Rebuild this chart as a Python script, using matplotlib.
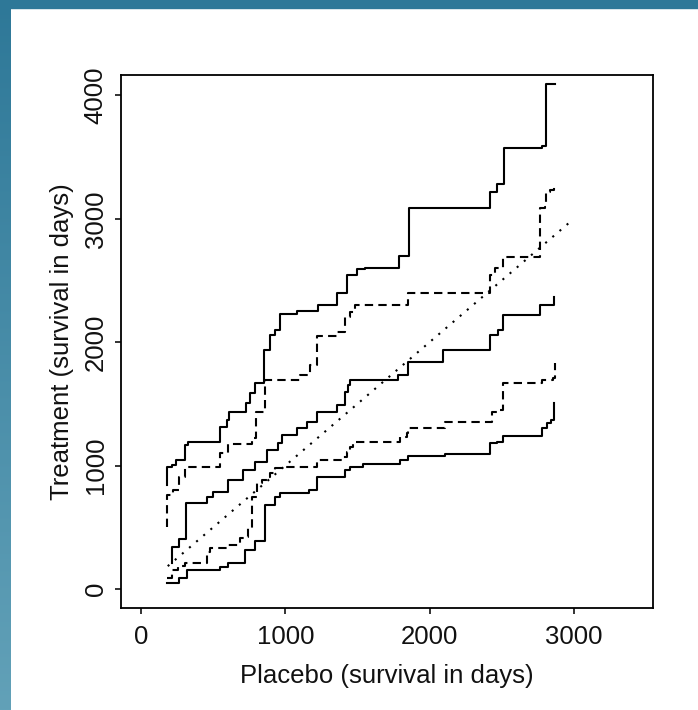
import numpy as np
import matplotlib.pyplot as plt
from matplotlib.patches import Rectangle

plt.rcParams['font.family'] = ['Liberation Sans', 'DejaVu Sans']

# upper solid band
upper_x = [182, 182, 213, 243, 305, 328, 547, 594, 612, 728, 755, 790, 854, 894, 929,
           963, 1079, 1229, 1360, 1425, 1494, 1552, 1790, 1859, 2419, 2469, 2516, 2777, 2807, 2869]
upper_y = [843, 991, 1005, 1045, 1167, 1194, 1315, 1370, 1437, 1505, 1586, 1667, 1937, 2058, 2099,
           2226, 2253, 2301, 2396, 2545, 2591, 2604, 2699, 3090, 3220, 3282, 3571, 3590, 4090, 4090]

# middle solid (estimate)
mid_x = [213, 213, 263, 312, 455, 501, 605, 709, 790, 871, 951, 977, 1081, 1150, 1218,
         1356, 1414, 1437, 1448, 1783, 1852, 2095, 2419, 2476, 2511, 2765, 2862]
mid_y = [208, 343, 405, 694, 748, 788, 883, 964, 1032, 1126, 1181, 1248, 1305, 1356, 1437,
         1491, 1599, 1653, 1694, 1734, 1842, 1937, 2058, 2099, 2220, 2301, 2366]

# lower solid band
low_x = [180, 263, 317, 547, 605, 721, 790, 859, 929, 963, 1164, 1220, 1414, 1448, 1541,
         1795, 1852, 2107, 2419, 2467, 2511, 2777, 2811, 2841, 2862]
low_y = [46, 87, 154, 181, 208, 316, 385, 681, 748, 776, 802, 908, 964, 991, 1013,
         1045, 1078, 1092, 1181, 1194, 1236, 1302, 1343, 1370, 1505]

# upper dashed band
dup_x = [182, 182, 224, 265, 305, 547, 605, 767, 797, 859, 1102, 1171, 1218, 1356, 1414,
         1448, 1483, 1852, 2419, 2453, 2511, 2765, 2800, 2810, 2834, 2862]
dup_y = [505, 762, 802, 910, 991, 1100, 1175, 1221, 1437, 1694, 1734, 1815, 2050, 2085, 2207,
         2247, 2301, 2396, 2545, 2599, 2693, 3085, 3098, 3217, 3233, 3266]

# lower dashed band
dlo_x = [182, 213, 256, 305, 455, 478, 594, 686, 733, 744, 767, 802, 836, 871, 894, 929,
         986, 1218, 1402, 1425, 1448, 1471, 1795, 1841, 1852, 2107, 2430, 2476, 2511, 2777, 2857, 2869]
dlo_y = [89, 154, 186, 208, 302, 330, 357, 411, 424, 492, 748, 857, 883, 910, 938, 978,
         991, 1045, 1072, 1113, 1153, 1194, 1234, 1262, 1302, 1356, 1437, 1451, 1667, 1694, 1707, 1829]

# line of equality
eq_x = [185, 2970]
eq_y = [185, 2970]

xticks = [0, 1000, 2000, 3000]
yticks = [0, 1000, 2000, 3000, 4000]

W, H = 698, 710
fig = plt.figure(figsize=(W / 100, H / 100), dpi=100)

# blue frame on the left and top
bg = fig.add_axes([0, 0, 11 / W, 1])
top_c = np.array([46, 120, 152]) / 255
bot_c = np.array([98, 161, 184]) / 255
t = np.linspace(0, 1, 256)[:, None]
grad = (top_c * (1 - t) + bot_c * t)[:, None, :]
bg.imshow(grad, aspect='auto', extent=[0, 1, 0, 1])
bg.axis('off')
fig.patches.append(Rectangle((0, 1 - 8 / H), 1, 8 / H, transform=fig.transFigure,
                             color=top_c, zorder=5))

ax = fig.add_axes([121 / W, 102 / H, 532 / W, 533 / H])

ax.plot(upper_x, upper_y, drawstyle='steps-post', color='black', lw=1.5)
ax.plot(mid_x, mid_y, drawstyle='steps-post', color='black', lw=1.5)
ax.plot(low_x, low_y, drawstyle='steps-post', color='black', lw=1.5)
ax.plot(dup_x, dup_y, drawstyle='steps-post', color='black', lw=1.5, ls=(0, (4, 2.5)))
ax.plot(dlo_x, dlo_y, drawstyle='steps-post', color='black', lw=1.5, ls=(0, (4, 2.5)))
ax.plot(eq_x, eq_y, color='black', lw=1.5, ls=(0, (1, 3.5)))

ax.set_xlim(-139, 3549)
ax.set_ylim(-154, 4165)
ax.set_xticks(xticks)
ax.set_yticks(yticks)
for s in ax.spines.values():
    s.set_linewidth(1.3)
ax.tick_params(direction='out', length=4.5, width=1.2, labelsize=18.5, colors='#111111')
ax.tick_params(axis='x', pad=8)
ax.tick_params(axis='y', pad=5)
for lab in ax.get_yticklabels():
    lab.set_rotation(90)
    lab.set_va('center')

ax.set_xlabel('Placebo (survival in days)', fontsize=18.5, color='#111111')
ax.xaxis.set_label_coords(0.5, -0.128)
ax.xaxis.label.set_va('center')
ax.set_ylabel('Treatment (survival in days)', fontsize=18.5, color='#111111')
ax.yaxis.set_label_coords(-0.111, 0.5)
ax.yaxis.label.set_va('center')

fig.savefig('out.png', dpi=100)
